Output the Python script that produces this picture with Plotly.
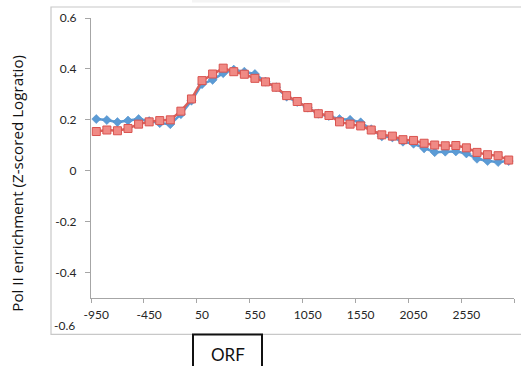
import plotly.graph_objects as go

# Distance from the start site (bp), one category per 100 bp bin
positions = [-950, -850, -750, -650, -550, -450, -350, -250, -150, -50,
             50, 150, 250, 350, 450, 550, 650, 750, 850, 950,
             1050, 1150, 1250, 1350, 1450, 1550, 1650, 1750, 1850, 1950,
             2050, 2150, 2250, 2350, 2450, 2550, 2650, 2750, 2850, 2950]

series_blue = [0.203, 0.199, 0.191, 0.197, 0.203, 0.195, 0.187, 0.183, 0.222, 0.275,
               0.340, 0.357, 0.383, 0.397, 0.389, 0.380, 0.350, 0.328, 0.291, 0.270,
               0.248, 0.224, 0.215, 0.203, 0.200, 0.190, 0.163, 0.135, 0.131, 0.114,
               0.106, 0.088, 0.073, 0.075, 0.076, 0.068, 0.047, 0.038, 0.034, 0.038]

series_red = [0.154, 0.160, 0.157, 0.166, 0.183, 0.192, 0.197, 0.200, 0.234, 0.282,
              0.354, 0.380, 0.403, 0.389, 0.379, 0.363, 0.349, 0.328, 0.295, 0.272,
              0.248, 0.224, 0.217, 0.192, 0.183, 0.176, 0.160, 0.141, 0.136, 0.122,
              0.119, 0.108, 0.101, 0.098, 0.099, 0.090, 0.072, 0.063, 0.059, 0.042]

x_label_values = [-950, -450, 50, 550, 1050, 1550, 2050, 2550]
x_tick_marks = [-1000, -500, 0, 500, 1000, 1500, 2000, 2500, 3000]
y_tick_values = [-0.4, -0.2, 0, 0.2, 0.4, 0.6]

# Page geometry (pixels)
W, H = 521, 366
PL, PR, PT, PB = 91, 514, 18, 298.5


def fx(p):
    return (p - PL) / (PR - PL)


def fy(p):
    return (PB - p) / (PB - PT)


FONT = "Lato"
TITLE_FONT = "Open Sans"
AXIS_GREY = "#A6A6A6"
TEXT = "#262626"

fig = go.Figure()
fig.add_trace(go.Scatter(
    x=positions, y=series_blue, mode="lines+markers",
    line=dict(color="#5B9BD5", width=2.5),
    marker=dict(symbol="diamond", size=7, color="#5B9BD5",
                line=dict(color="#4A8AC8", width=0.5)),
    showlegend=False,
))
fig.add_trace(go.Scatter(
    x=positions, y=series_red, mode="lines+markers",
    line=dict(color="#D9605B", width=2.5),
    marker=dict(symbol="square", size=8, color="#F08A85",
                line=dict(color="#D9534F", width=1)),
    showlegend=False,
))

fig.update_layout(
    width=W, height=H,
    margin=dict(l=PL, r=W - PR, t=PT, b=H - PB),
    paper_bgcolor="white", plot_bgcolor="white",
    font=dict(family=FONT, size=12, color=TEXT),
    xaxis=dict(
        range=[-1000, 3000], showgrid=False, zeroline=False,
        showline=True, linecolor=AXIS_GREY, linewidth=1.2,
        tickmode="array", tickvals=x_label_values,
        ticktext=[str(v) for v in x_label_values],
        ticks="", ticklabelstandoff=5,
        tickfont=dict(family=FONT, size=12, color=TEXT),
        minor=dict(tickmode="array", tickvals=x_tick_marks, ticks="outside",
                   ticklen=4, tickcolor=AXIS_GREY, tickwidth=1.2, showgrid=False),
    ),
    yaxis=dict(
        range=[-0.5, 0.6], showgrid=False, zeroline=False,
        showline=True, linecolor=AXIS_GREY, linewidth=1.2,
        tickmode="array", tickvals=y_tick_values,
        ticktext=["-0.4", "-0.2", "0", "0.2", "0.4", "0.6"],
        ticks="outside", ticklen=5, tickcolor=AXIS_GREY, tickwidth=1.2,
        ticklabelstandoff=6,
        tickfont=dict(family=FONT, size=12, color=TEXT),
    ),
)

# Lowest value label sits below the horizontal axis
fig.add_annotation(x=fx(77), y=fy(326), xref="paper", yref="paper",
                   text="-0.6", showarrow=False, xanchor="right", yanchor="middle",
                   font=dict(family=FONT, size=12, color=TEXT))

# Y axis title
fig.add_annotation(x=fx(17), y=fy(184), xref="paper", yref="paper",
                   text="Pol II enrichment (Z-scored Logratio)", showarrow=False,
                   textangle=-90, xanchor="center", yanchor="middle",
                   font=dict(family=TITLE_FONT, size=15.2, color="#111111"))

# Chart frame
fig.add_shape(type="rect", xref="paper", yref="paper",
              x0=fx(51), x1=fx(530), y0=fy(335), y1=fy(7),
              line=dict(color="#C8C8C8", width=1.2), fillcolor="rgba(0,0,0,0)",
              layer="below")

# Faint shadow of the box above the frame
fig.add_shape(type="rect", xref="paper", yref="paper",
              x0=fx(192), x1=fx(290), y0=fy(2.5), y1=fy(-5),
              line=dict(width=0), fillcolor="rgba(210,210,210,0.25)")

# ORF box
fig.add_shape(type="rect", xref="paper", yref="paper",
              x0=fx(193), x1=fx(262), y0=fy(372), y1=fy(335),
              line=dict(color="#111111", width=2), fillcolor="white")
fig.add_annotation(x=fx(227.5), y=fy(355), xref="paper", yref="paper",
                   text="ORF", showarrow=False, xanchor="center", yanchor="middle",
                   font=dict(family=FONT, size=17, color="#111111"))

fig.write_html("out.html")
